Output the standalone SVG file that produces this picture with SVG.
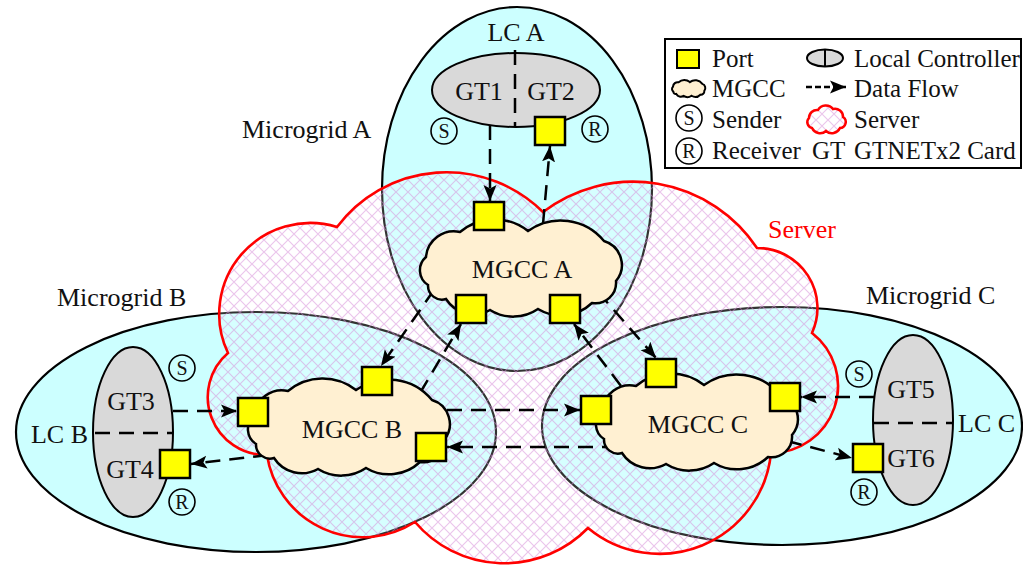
<svg xmlns="http://www.w3.org/2000/svg" width="1023" height="566" viewBox="0 0 1023 566">
  <style>
    .mg { fill: #ccffff; }
    .mgl { fill: none; stroke: #000; stroke-width: 2.2; }
    .lc { fill: #d9d9d9; stroke: #000; stroke-width: 2; }
    .split { fill: none; stroke: #000; stroke-width: 2.5; stroke-dasharray: 15 9; }
    .port { fill: #ffff00; stroke: #000; stroke-width: 2.5; }
    .mgcc { fill: #fff0d2; stroke: #000; stroke-width: 2.5; }
    .flow { fill: none; stroke: #000; stroke-width: 2.5; stroke-dasharray: 15 9; marker-end: url(#arrow); }
    .srv { fill: url(#hatch); stroke: #ff0000; stroke-width: 2.6; }
    .t { font-family: "Liberation Serif", "Times New Roman", serif; font-size: 26px; fill: #111; }
    .lg { font-family: "Liberation Serif", "Times New Roman", serif; font-size: 25px; fill: #111; }
    .mid { text-anchor: middle; }
    .sr circle { fill: none; stroke: #000; stroke-width: 1.6; }
    .sr text { font-family: "Liberation Serif", "Times New Roman", serif; font-size: 20px; fill: #111; text-anchor: middle; }
  </style>
  <defs>
    <pattern id="hatch" width="12" height="12" patternUnits="userSpaceOnUse">
      <rect width="12" height="12" fill="#ffffff" fill-opacity="0.2"/>
      <path d="M0,0 L12,12 M12,0 L0,12" stroke="#d58cd8" stroke-opacity="0.5" stroke-width="1.2"/>
    </pattern>
    <marker id="arrow" markerUnits="userSpaceOnUse" markerWidth="17" markerHeight="14" refX="16" refY="7" orient="auto" viewBox="0 0 17 14">
      <path d="M0,0.5 L16,7 L0,13.5 L3.5,7 z" fill="#000"/>
    </marker>
    <!-- MGCC cloud outline, 200 x 97 box -->
    <path id="cloud" vector-effect="non-scaling-stroke" d="M8,66 A17.5,17.5 0 0 1 6,38 A28,28 0 0 1 40,13 A54,54 0 0 1 108,12 A56,56 0 0 1 184,22 A25,25 0 0 1 196,62 A20.6,20.6 0 0 1 172,84 A45,45 0 0 1 118,90 A44,44 0 0 1 70,91 A33,33 0 0 1 26,80 A14,14 0 0 1 8,66 Z"/>
  </defs>

  <rect width="1023" height="566" fill="#ffffff"/>

  <!-- microgrid areas: fills first, then outlines so every edge stays visible -->
  <g id="microgrids">
    <ellipse class="mg" cx="517" cy="189" rx="135" ry="182"/>
    <ellipse class="mg" cx="256" cy="432" rx="240" ry="120"/>
    <ellipse class="mg" cx="782" cy="426" rx="240" ry="119"/>
    <ellipse id="mg-a" class="mgl" cx="517" cy="189" rx="135" ry="182"/>
    <ellipse id="mg-b" class="mgl" cx="256" cy="432" rx="240" ry="120"/>
    <ellipse id="mg-c" class="mgl" cx="782" cy="426" rx="240" ry="119"/>
    <text class="t" x="242" y="138">Microgrid A</text>
    <text class="t" x="57" y="306">Microgrid B</text>
    <text class="t" x="866" y="304">Microgrid C</text>
  </g>

  <!-- server -->
  <g id="server">
    <path class="srv" d="M337,227 A137,137 0 0 1 543,212 A149,149 0 0 1 757,248 A60,60 0 0 1 812,333 A67,67 0 0 1 771,453 A112,112 0 0 1 588,528 A117,117 0 0 1 415,522 A97,97 0 0 1 267,455 A58,58 0 0 1 228,353 A91,91 0 0 1 337,227 Z"/>
    <text class="t" x="768" y="238" style="fill:#ff0000">Server</text>
  </g>

  <!-- local controllers -->
  <g id="lc-a">
    <ellipse class="lc" cx="516" cy="90" rx="84" ry="37"/>
    <line class="split" x1="515" y1="50" x2="515" y2="127"/>
    <text class="t mid" x="479" y="100">GT1</text>
    <text class="t mid" x="551" y="100">GT2</text>
    <text class="t mid" x="516" y="41">LC A</text>
    <g class="sr"><circle cx="444" cy="131" r="13"/><text x="444" y="138">S</text></g>
    <g class="sr"><circle cx="595" cy="129" r="13"/><text x="595" y="136">R</text></g>
  </g>
  <g id="lc-b">
    <ellipse class="lc" cx="133" cy="432" rx="40" ry="85"/>
    <line class="split" x1="95" y1="433" x2="172" y2="433"/>
    <text class="t mid" x="131" y="410">GT3</text>
    <text class="t mid" x="130" y="478">GT4</text>
    <text class="t" x="88" y="443" text-anchor="end">LC B</text>
    <g class="sr"><circle cx="182" cy="368" r="13"/><text x="182" y="375">S</text></g>
    <g class="sr"><circle cx="182" cy="502" r="13"/><text x="182" y="509">R</text></g>
  </g>
  <g id="lc-c">
    <ellipse class="lc" cx="913" cy="420" rx="40" ry="85"/>
    <line class="split" x1="874" y1="423" x2="952" y2="423"/>
    <text class="t mid" x="911" y="398">GT5</text>
    <text class="t mid" x="911" y="467">GT6</text>
    <text class="t" x="958" y="432">LC C</text>
    <g class="sr"><circle cx="859" cy="374" r="13"/><text x="859" y="381">S</text></g>
    <g class="sr"><circle cx="864" cy="492" r="13"/><text x="864" y="499">R</text></g>
  </g>

  <!-- data flows -->
  <g id="connectors">
    <line class="flow" x1="490" y1="125" x2="490" y2="201"/>
    <line class="flow" x1="543" y1="224" x2="550" y2="146"/>
    <line class="flow" x1="434" y1="290" x2="381" y2="366"/>
    <line class="flow" x1="420" y1="393" x2="461" y2="324"/>
    <line class="flow" x1="621" y1="386" x2="574" y2="324"/>
    <line class="flow" x1="598" y1="292" x2="656" y2="358"/>
    <line class="flow" x1="173" y1="411" x2="237" y2="411"/>
    <line class="flow" x1="268" y1="455" x2="191" y2="464"/>
    <line class="flow" x1="447" y1="410" x2="580" y2="410"/>
    <line class="flow" x1="617" y1="447" x2="447" y2="447"/>
    <line class="flow" x1="874" y1="397" x2="801" y2="397"/>
    <line class="flow" x1="787" y1="441" x2="852" y2="458"/>
  </g>

  <!-- MGCCs -->
  <g id="mgcc-a">
    <use href="#cloud" class="mgcc" transform="translate(420,219)"/>
    <text class="t mid" x="522" y="278">MGCC A</text>
  </g>
  <g id="mgcc-b">
    <use href="#cloud" class="mgcc" transform="translate(248,378)"/>
    <text class="t mid" x="352" y="438">MGCC B</text>
  </g>
  <g id="mgcc-c">
    <use href="#cloud" class="mgcc" transform="translate(596,373)"/>
    <text class="t mid" x="698" y="433">MGCC C</text>
  </g>

  <!-- ports -->
  <g id="ports">
    <rect class="port" x="535" y="117" width="30" height="28"/>
    <rect class="port" x="474" y="202" width="30" height="28"/>
    <rect class="port" x="456" y="295" width="30" height="28"/>
    <rect class="port" x="550" y="295" width="30" height="28"/>
    <rect class="port" x="238" y="398" width="30" height="28"/>
    <rect class="port" x="362" y="367" width="30" height="28"/>
    <rect class="port" x="416" y="433" width="30" height="28"/>
    <rect class="port" x="160" y="450" width="30" height="28"/>
    <rect class="port" x="581" y="396" width="30" height="28"/>
    <rect class="port" x="646" y="359" width="30" height="28"/>
    <rect class="port" x="770" y="383" width="30" height="28"/>
    <rect class="port" x="853" y="444" width="30" height="28"/>
  </g>

  <!-- legend -->
  <g id="legend">
    <rect x="665" y="39" width="356" height="129" fill="#ffffff" stroke="#000" stroke-width="2"/>
    <rect class="port" x="677" y="50" width="22" height="18" style="stroke-width:2"/>
    <text class="lg" x="712" y="67">Port</text>
    <ellipse class="lc" cx="825" cy="58" rx="18" ry="8.5"/>
    <line x1="825" y1="49.5" x2="825" y2="66.5" stroke="#000" stroke-width="2"/>
    <text class="lg" x="854" y="67">Local Controller</text>
    <use href="#cloud" class="mgcc" transform="translate(672,80) scale(0.165,0.175)" style="stroke-width:2"/>
    <text class="lg" x="712" y="97">MGCC</text>
    <line x1="806" y1="87" x2="846" y2="87" stroke="#000" stroke-width="2.5" stroke-dasharray="6 3" marker-end="url(#arrow)"/>
    <text class="lg" x="854" y="97">Data Flow</text>
    <g class="sr"><circle cx="689" cy="118" r="13"/><text x="689" y="125">S</text></g>
    <text class="lg" x="712" y="128">Sender</text>
    <path class="srv" d="M812,128 A6,6 0 0 1 809,118 A8,8 0 0 1 818,110 A9,9 0 0 1 833,109 A8,8 0 0 1 843,117 A6,6 0 0 1 840,128 A9,9 0 0 1 826,131 A9,9 0 0 1 812,128 Z" style="stroke-width:2.5"/>
    <text class="lg" x="854" y="128">Server</text>
    <g class="sr"><circle cx="689" cy="151" r="13"/><text x="689" y="158">R</text></g>
    <text class="lg" x="712" y="159">Receiver</text>
    <text class="lg" x="812" y="159">GT</text>
    <text class="lg" x="854" y="159">GTNETx2 Card</text>
  </g>
</svg>
